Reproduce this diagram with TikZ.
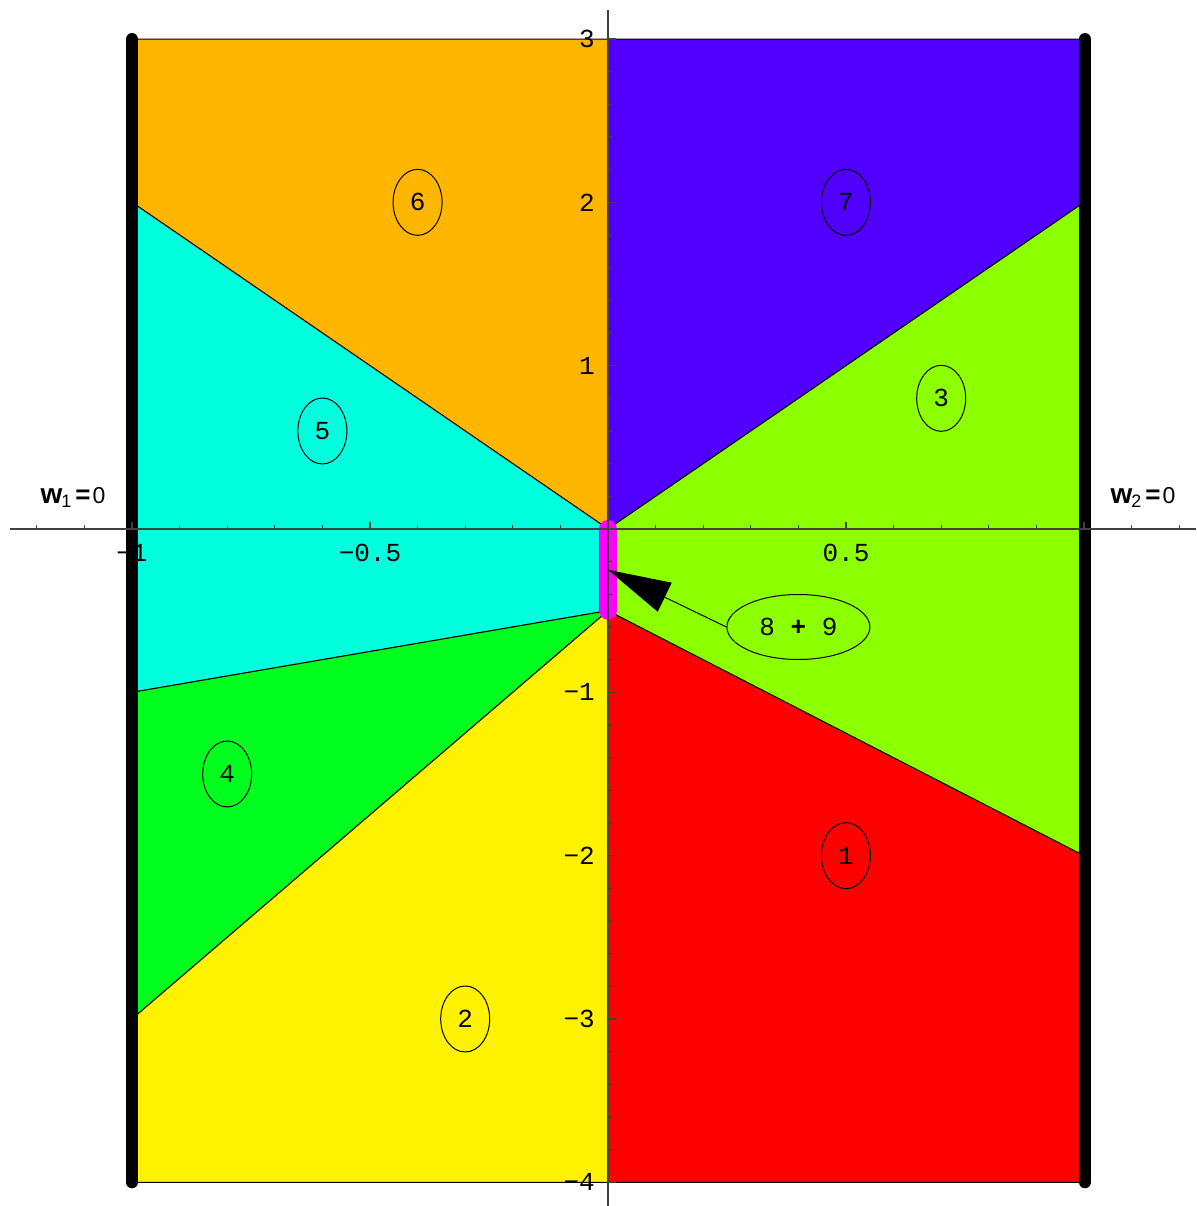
\documentclass[tikz,border=0pt]{standalone}
\usepackage{fontspec}
\newfontfamily\monof{Liberation Mono}
\newfontfamily\sansf{Liberation Sans}
\usetikzlibrary{shapes.geometric,arrows.meta}
\definecolor{corange}{RGB}{255,182,0}
\definecolor{cpurple}{RGB}{81,0,255}
\definecolor{ccyan}{RGB}{0,255,221}
\definecolor{clime}{RGB}{140,255,0}
\definecolor{cgreen}{RGB}{0,255,30}
\definecolor{cyellow}{RGB}{255,242,0}
\definecolor{cred}{RGB}{255,0,0}
\definecolor{cmag}{RGB}{255,0,255}
\begin{document}
\begin{tikzpicture}[x=476pt,y=163.33pt,
  region/.style={draw=black,line width=1pt,line join=round},
  lbl/.style={draw=black,ellipse,line width=1pt,minimum width=49pt,minimum height=66pt,inner sep=0pt,font={\monof\fontsize{26}{28}\selectfont}},
  ticklbl/.style={font={\monof\fontsize{26}{28}\selectfont},inner sep=0pt},
  axisline/.style={draw=black!75,line width=1.3pt},
  border/.style={draw=black,line width=12pt,line cap=round},
  wlbl/.style={font=\sansf,inner sep=0pt,anchor=base}]
\useasboundingbox (-1.27731,-4.14498) rectangle (1.23529,3.23884);
% regions
\path[region,fill=corange] (-1,3) -- (0,3) -- (0,0) -- (-1,2) -- cycle;
\path[region,fill=cpurple] (0,3) -- (1,3) -- (1,2) -- (0,0) -- cycle;
\path[region,fill=ccyan] (-1,2) -- (0,0) -- (0,-0.5) -- (-1,-1) -- cycle;
\path[region,fill=cgreen] (-1,-1) -- (0,-0.5) -- (-1,-3) -- cycle;
\path[region,fill=cyellow] (-1,-3) -- (0,-0.5) -- (0,-4) -- (-1,-4) -- cycle;
\path[region,fill=cred] (0,-0.5) -- (1,-2) -- (1,-4) -- (0,-4) -- cycle;
\path[region,fill=clime] (0,0) -- (1,2) -- (1,-2) -- (0,-0.5) -- cycle;
% thick borders
\coordinate (LT) at (-1,3);
\coordinate (LB) at (-1,-4);
\coordinate (RT) at (1.002,3);
\coordinate (RB) at (1.002,-4);
\draw[border] (LT) -- (LB);
\draw[border] (RT) -- (RB);
% magenta segment
\coordinate (m1) at (0,0);
\coordinate (m2) at (0,-0.5);
\draw[cmag,line width=18pt,line cap=round] (m1) -- (m2);
% axes
\coordinate (xl) at (-1.2563,0);
\coordinate (xr) at (1.23529,0);
\coordinate (yt) at (0,3.1776);
\coordinate (yb) at (0,-4.14498);
\draw[axisline] (xl) -- (xr);
\draw[axisline] (yb) -- (yt);
\foreach \i in {-12,...,12}{
  \ifnum\i=0\relax\else
  \pgfmathtruncatemacro\r{abs(mod(\i,5))}
  \ifnum\r=0 \def\len{7pt}\else\def\len{4pt}\fi
  \draw[axisline] (\i/10,0) -- ++(0,\len);
  \fi}
\foreach \i in {-20,...,15}{
  \ifnum\i=0\relax\else
  \pgfmathtruncatemacro\r{abs(mod(\i,5))}
  \ifnum\r=0 \def\len{8pt}\else\def\len{4pt}\fi
  \draw[axisline] (0,\i/5) -- ++(\len,0);
  \fi}
% tick labels
\node[ticklbl,yshift=-24pt] (tx1) at (-1,0) {−1};
\node[ticklbl,yshift=-24pt] (tx2) at (-0.5,0) {−0.5};
\node[ticklbl,yshift=-24pt] (tx3) at (0.5,0) {0.5};
\node[ticklbl,anchor=east,xshift=-13pt] (ty1) at (0,3) {3};
\node[ticklbl,anchor=east,xshift=-13pt] (ty2) at (0,2) {2};
\node[ticklbl,anchor=east,xshift=-13pt] (ty3) at (0,1) {1};
\node[ticklbl,anchor=east,xshift=-13pt] (ty4) at (0,-1) {−1};
\node[ticklbl,anchor=east,xshift=-13pt] (ty5) at (0,-2) {−2};
\node[ticklbl,anchor=east,xshift=-13pt] (ty6) at (0,-3) {−3};
\node[ticklbl,anchor=east,xshift=-13pt] (ty7) at (0,-4) {−4};
% w labels
\node[wlbl] (w1) at (-1.124,0.159) {{\bfseries\fontsize{28}{30}\selectfont w}\kern-1pt\raisebox{-4pt}{\fontsize{18}{20}\selectfont 1}\kern4pt{\bfseries\fontsize{26}{28}\selectfont =}\kern2pt{\fontsize{23}{26}\selectfont 0}};
\node[wlbl] (w2) at (1.124,0.159) {{\bfseries\fontsize{28}{30}\selectfont w}\kern-1pt\raisebox{-4pt}{\fontsize{18}{20}\selectfont 2}\kern4pt{\bfseries\fontsize{26}{28}\selectfont =}\kern2pt{\fontsize{23}{26}\selectfont 0}};
% region labels
\node[lbl] (r6) at (-0.4,2) {6};
\node[lbl] (r7) at (0.5,2) {7};
\node[lbl] (r3) at (0.7,0.8) {3};
\node[lbl] (r5) at (-0.6,0.6) {5};
\node[lbl] (r4) at (-0.8,-1.5) {4};
\node[lbl] (r1) at (0.5,-2) {1};
\node[lbl] (r2) at (-0.3,-3) {2};
\node[lbl,minimum width=143pt,minimum height=65pt] (n89) at (0.4,-0.6) {8 {\bfseries +} 9};
\coordinate (tip) at (0,-0.25);
\draw[line width=1pt,-{Triangle[length=63pt,width=32pt]}] (n89.west) -- (tip);
\end{tikzpicture}
\end{document}
